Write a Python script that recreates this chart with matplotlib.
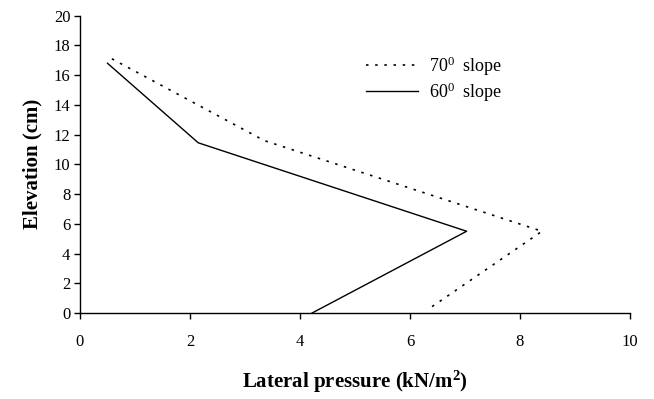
import matplotlib
matplotlib.use("Agg")
import matplotlib.pyplot as plt

plt.rcParams['font.family'] = ['Liberation Serif', 'DejaVu Serif']
plt.rcParams['mathtext.fontset'] = 'custom'
plt.rcParams['mathtext.rm'] = 'Liberation Serif'
plt.rcParams['mathtext.it'] = 'Liberation Serif'
plt.rcParams['mathtext.bf'] = 'Liberation Serif:bold'

# data
pressure_70 = [0.58, 3.35, 8.40, 6.35]
elev_70 = [17.1, 11.6, 5.5, 0.3]
pressure_60 = [0.50, 2.15, 7.03, 4.22]
elev_60 = [16.8, 11.45, 5.5, 0.0]

x_ticks = [0, 2, 4, 6, 8, 10]
y_ticks = list(range(0, 21, 2))

fig = plt.figure(figsize=(6.54, 3.99), dpi=100)
ax = fig.add_axes([0.1223, 0.2155, 0.8410, 0.7452])

ax.plot(pressure_70, elev_70, color='black', lw=1.2, dashes=(1.5, 4),
        label=r'$\mathrm{70^0}$  slope')
ax.plot(pressure_60, elev_60, color='black', lw=1.0, ls='-',
        label=r'$\mathrm{60^0}$  slope')

ax.set_xlim(0, 10)
ax.set_ylim(0, 20)
ax.set_xticks(x_ticks)
ax.set_yticks(y_ticks)
ax.spines['top'].set_visible(False)
ax.spines['right'].set_visible(False)
for s in ['left', 'bottom']:
    ax.spines[s].set_linewidth(1.0)
ax.tick_params(axis='both', direction='out', length=4, width=1.0, labelsize=12)
ax.tick_params(axis='x', pad=11)
ax.tick_params(axis='y', pad=3)

ax.set_xlabel(r'Lateral pressure (kN/m$^{\mathbf{2}}$)', fontsize=15,
              fontweight='bold', labelpad=14)
ax.set_ylabel('Elevation (cm)', fontsize=15, fontweight='bold', labelpad=8)

leg = ax.legend(loc='upper left', bbox_to_anchor=(0.49, 0.925), frameon=False,
                fontsize=13, handlelength=2.9, handletextpad=0.6,
                labelspacing=0.15)

fig.savefig('out.png', dpi=100)
